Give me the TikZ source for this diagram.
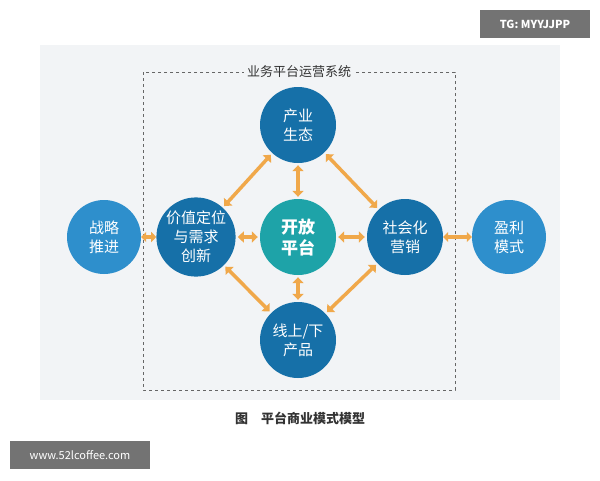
\documentclass[tikz,border=0pt]{standalone}
\usepackage{fontspec}
\setmainfont{Noto Sans CJK SC}
\usetikzlibrary{arrows.meta}
\definecolor{darkblue}{HTML}{1670A8}
\definecolor{lightblue}{HTML}{2E8FCC}
\definecolor{tealc}{HTML}{1EA3A8}
\definecolor{arrowc}{HTML}{F0A84A}
\definecolor{panel}{HTML}{F2F4F6}
\tikzset{
  ball/.style={circle,fill=darkblue,minimum size=76pt,inner sep=0pt,text=white,
    font=\fontsize{15}{19}\selectfont,align=center},
  link/.style={draw=arrowc,line width=3.5pt,{Triangle[length=6pt,width=11pt]}-{Triangle[length=6pt,width=11pt]},shorten >=2pt,shorten <=2pt},
  shortlink/.style={link,{Triangle[length=5pt,width=10pt]}-{Triangle[length=5pt,width=10pt]},shorten >=0pt,shorten <=0pt}
}
\begin{document}
\begin{tikzpicture}[x=1pt,y=-1pt]
\useasboundingbox (0,0) rectangle (600,480);
\fill[white] (0,0) rectangle (600,480);
\fill[panel] (40,45) rectangle (560,400);
\draw[dashed,gray!80!black,line width=1pt] (143,72) rectangle (455,390);
\node[fill=panel,font=\fontsize{13}{15}\selectfont,text=black!80] (title) at (299,72) {业务平台运营系统};

\node[ball] (eco) at (298,125) {产业\\生态};
\node[ball] (value) at (196,237) {价值定位\\与需求\\创新};
\node[ball,fill=tealc,font=\fontsize{17}{21}\selectfont\bfseries] (open) at (298,237) {开放\\平台};
\node[ball] (social) at (405,237) {社会化\\营销};
\node[ball] (prod) at (298,340) {线上/下\\产品};
\node[ball,fill=lightblue,minimum size=74pt] (strat) at (104,237) {战略\\推进};
\node[ball,fill=lightblue,minimum size=74pt] (profit) at (509,237) {盈利\\模式};

% links
\draw[link] (eco) -- (open);
\draw[link] (prod) -- (open);
\draw[link] (value) -- (open);
\draw[link] (social) -- (open);
\draw[link] (eco) -- (value);
\draw[link] (eco) -- (social);
\draw[link] (prod) -- (value);
\draw[link] (prod) -- (social);
\draw[shortlink] (strat) -- (value);
\draw[shortlink] (social) -- (profit);

\node[font=\fontsize{13}{15}\selectfont\bfseries,text=black!80] (cap) at (300,418) {图\quad 平台商业模式模型};
\node[fill=black!55,text=white,font=\fontsize{11}{13}\selectfont\bfseries,minimum width=110pt,minimum height=28pt] (tg) at (535,24) {TG: MYYJJPP};
\node[fill=black!55,text=white,font=\fontsize{11}{13}\selectfont,minimum width=140pt,minimum height=28pt] (www) at (80,455) {www.52lcoffee.com};
\end{tikzpicture}
\end{document}
